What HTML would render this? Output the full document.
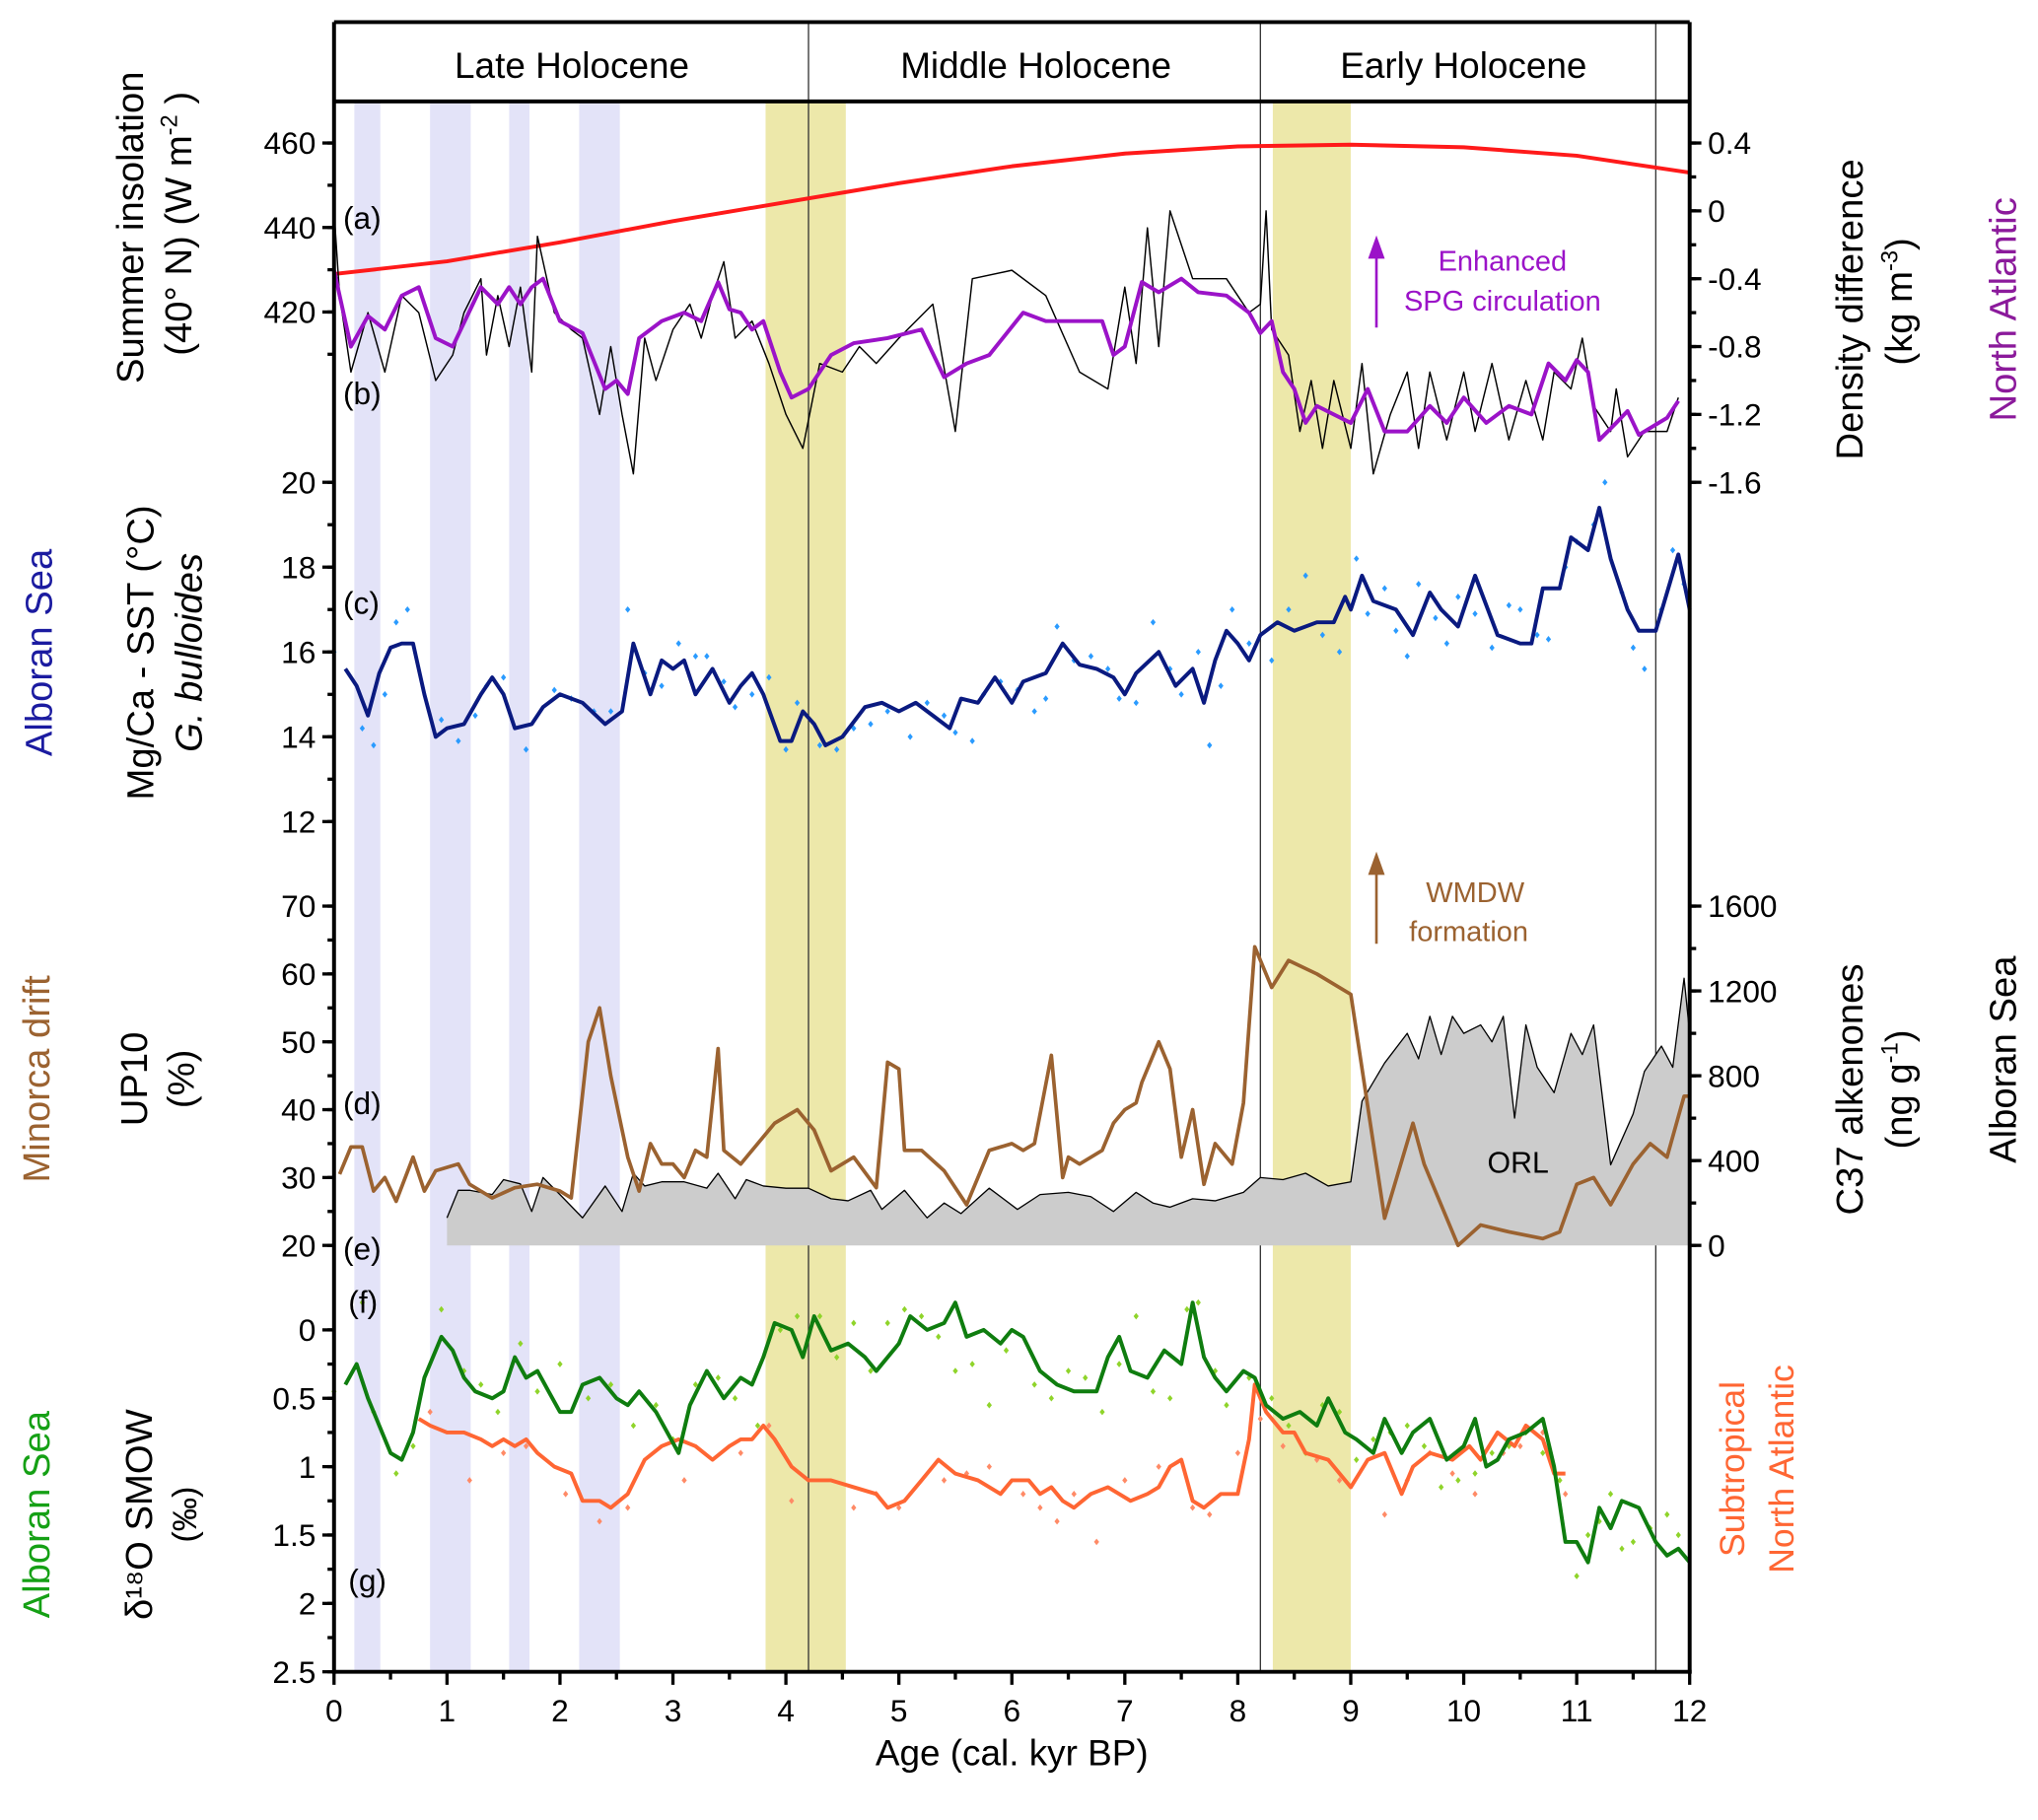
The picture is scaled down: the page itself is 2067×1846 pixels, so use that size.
<!DOCTYPE html>
<html><head><meta charset="utf-8"><style>
html,body{margin:0;padding:0;background:#fff;}
svg{display:block;font-family:"Liberation Sans",Arial,sans-serif;}
</style></head><body>
<svg id="chart" width="2067" height="1846" viewBox="0 0 1568 1400" preserveAspectRatio="none" xmlns="http://www.w3.org/2000/svg">
<g id="bg"></g>
<g id="marks"></g>
<g id="axes"></g>
</svg>
<script>
// ---- data ----
const blueBands=[[0.18,0.41],[0.85,1.21],[1.55,1.73],[2.17,2.53]];
const yellowBands=[[3.82,4.53],[8.31,9.0]];
const periodLines=[4.2,8.2,11.7];
const insolAge=[0,1,2,3,4,5,6,7,8,9,10,11,12];
const insolVal=[429,432,436.5,441.5,446,450.5,454.5,457.5,459.2,459.6,459,457,453];
const densAge=[0,0.15,0.3,0.45,0.6,0.75,0.9,1.05,1.3,1.45,1.55,1.65,1.75,1.85,2.0,2.2,2.4,2.5,2.6,2.7,2.9,3.1,3.25,3.4,3.5,3.6,3.7,3.8,3.95,4.05,4.2,4.4,4.6,4.9,5.2,5.4,5.6,5.8,6.1,6.3,6.5,6.8,6.9,7.0,7.15,7.3,7.5,7.65,7.9,8.1,8.2,8.3,8.4,8.5,8.6,8.7,8.85,9.0,9.15,9.3,9.5,9.7,9.85,10.0,10.2,10.4,10.6,10.75,10.9,11.0,11.1,11.2,11.35,11.45,11.55,11.8,11.9];
const densVal=[-0.35,-0.8,-0.62,-0.7,-0.5,-0.45,-0.75,-0.8,-0.45,-0.55,-0.45,-0.55,-0.45,-0.4,-0.65,-0.72,-1.05,-1.0,-1.08,-0.75,-0.65,-0.6,-0.65,-0.42,-0.58,-0.6,-0.7,-0.65,-0.95,-1.1,-1.05,-0.85,-0.78,-0.75,-0.7,-0.98,-0.9,-0.85,-0.6,-0.65,-0.65,-0.65,-0.85,-0.8,-0.42,-0.48,-0.4,-0.48,-0.5,-0.6,-0.72,-0.65,-0.95,-1.05,-1.25,-1.15,-1.2,-1.25,-1.05,-1.3,-1.3,-1.15,-1.25,-1.1,-1.25,-1.15,-1.2,-0.9,-1.0,-0.88,-0.95,-1.35,-1.25,-1.18,-1.32,-1.22,-1.12];
const rawAge=[0,0.05,0.15,0.3,0.45,0.6,0.75,0.9,1.05,1.15,1.3,1.35,1.45,1.55,1.65,1.75,1.8,1.95,2.1,2.2,2.35,2.45,2.55,2.65,2.75,2.85,3.0,3.15,3.25,3.35,3.45,3.55,3.7,3.85,4.0,4.15,4.3,4.5,4.65,4.8,5.0,5.3,5.5,5.65,6.0,6.3,6.6,6.85,7.0,7.1,7.2,7.3,7.4,7.6,7.9,8.1,8.2,8.25,8.3,8.45,8.55,8.65,8.75,8.85,9.0,9.1,9.2,9.35,9.5,9.6,9.7,9.85,10.0,10.1,10.25,10.4,10.55,10.7,10.8,10.95,11.05,11.15,11.3,11.35,11.45,11.6,11.8,11.9];
const rawVal=[0.0,-0.5,-0.95,-0.6,-0.95,-0.5,-0.6,-1.0,-0.85,-0.6,-0.4,-0.85,-0.5,-0.8,-0.45,-0.95,-0.15,-0.6,-0.7,-0.75,-1.2,-0.8,-1.2,-1.55,-0.75,-1.0,-0.7,-0.55,-0.75,-0.5,-0.3,-0.75,-0.65,-0.9,-1.2,-1.4,-0.9,-0.95,-0.8,-0.9,-0.75,-0.55,-1.3,-0.4,-0.35,-0.5,-0.95,-1.05,-0.45,-0.9,-0.1,-0.8,0.0,-0.4,-0.4,-0.6,-0.55,0.0,-0.7,-0.85,-1.3,-1.0,-1.4,-1.0,-1.4,-0.9,-1.55,-1.2,-0.95,-1.4,-0.95,-1.35,-0.95,-1.3,-0.9,-1.35,-1.0,-1.35,-0.95,-1.05,-0.75,-1.15,-1.3,-1.05,-1.45,-1.3,-1.3,-1.1];
const sstAge=[0.1,0.2,0.3,0.4,0.5,0.6,0.7,0.8,0.9,1.0,1.15,1.3,1.4,1.5,1.6,1.75,1.85,2.0,2.2,2.4,2.55,2.65,2.8,2.9,3.0,3.1,3.2,3.35,3.5,3.6,3.7,3.8,3.95,4.05,4.15,4.25,4.35,4.5,4.7,4.85,5.0,5.15,5.3,5.45,5.55,5.7,5.85,6.0,6.1,6.3,6.45,6.6,6.75,6.9,7.0,7.1,7.3,7.45,7.6,7.7,7.8,7.9,8.0,8.1,8.2,8.35,8.5,8.7,8.85,8.95,9.0,9.1,9.2,9.4,9.55,9.7,9.8,9.95,10.1,10.3,10.5,10.6,10.7,10.85,10.95,11.1,11.2,11.3,11.45,11.55,11.7,11.9,12.0];
const sstVal=[15.6,15.2,14.5,15.5,16.1,16.2,16.2,15.0,14.0,14.2,14.3,15.0,15.4,15.0,14.2,14.3,14.7,15.0,14.8,14.3,14.6,16.2,15.0,15.8,15.6,15.8,15.0,15.6,14.8,15.2,15.5,15.0,13.9,13.9,14.6,14.3,13.8,14.0,14.7,14.8,14.6,14.8,14.5,14.2,14.9,14.8,15.4,14.8,15.3,15.5,16.2,15.7,15.6,15.4,15.0,15.5,16.0,15.2,15.6,14.8,15.8,16.5,16.2,15.8,16.4,16.7,16.5,16.7,16.7,17.3,17.0,17.8,17.2,17.0,16.4,17.4,17.0,16.6,17.8,16.4,16.2,16.2,17.5,17.5,18.7,18.4,19.4,18.2,17.0,16.5,16.5,18.3,17.0];
const sstDotAge=[0.0,0.25,0.35,0.55,0.65,1.1,1.25,1.35,1.7,1.95,2.3,2.6,2.75,3.05,3.3,3.55,3.85,4.0,4.45,4.75,5.1,5.4,5.65,5.9,6.2,6.4,6.7,6.95,7.25,7.5,7.75,7.95,8.3,8.6,8.9,9.05,9.3,9.5,9.75,9.95,10.25,10.5,10.75,11.0,11.25,11.4,11.6,11.85,0.45,0.95,1.5,2.1,2.45,2.9,3.2,3.45,3.7,4.1,4.3,4.6,4.9,5.25,5.5,5.75,6.05,6.3,6.55,6.85,7.1,7.4,7.65,7.85,8.1,8.45,8.75,9.15,9.4,9.6,9.85,10.1,10.4,10.65,10.9,11.15,11.5,11.75,11.95];
const sstDotVal=[16.0,14.2,13.8,16.7,17.0,13.9,14.5,15.2,13.7,15.1,14.6,17.0,15.5,16.2,15.9,14.7,15.4,13.7,13.7,14.3,14.0,14.5,13.9,15.3,14.6,16.6,15.9,14.9,16.7,15.0,13.8,17.0,15.8,17.8,16.0,18.2,17.5,15.9,16.8,17.3,16.1,17.0,16.3,18.6,20.0,17.4,15.6,18.4,15.0,14.4,15.4,14.9,14.6,15.2,15.9,15.3,15.0,14.8,13.8,14.2,14.6,14.8,14.1,15.0,15.1,14.9,15.8,15.6,14.8,15.6,16.0,15.2,16.2,17.0,16.4,16.9,16.5,17.6,16.2,16.9,17.1,16.4,18.0,19.0,16.1,17.0,17.6];
const up10Age=[0.05,0.15,0.25,0.35,0.45,0.55,0.7,0.8,0.9,1.1,1.2,1.4,1.6,1.8,2.0,2.1,2.25,2.35,2.45,2.6,2.7,2.8,2.9,3.0,3.1,3.2,3.3,3.4,3.45,3.6,3.8,3.9,4.1,4.25,4.4,4.6,4.8,4.9,5.0,5.05,5.2,5.4,5.6,5.8,6.0,6.1,6.2,6.35,6.45,6.5,6.6,6.8,6.9,7.0,7.1,7.15,7.3,7.4,7.5,7.6,7.7,7.8,7.95,8.05,8.15,8.3,8.45,8.7,9.0,9.3,9.55,9.65,9.95,10.15,10.4,10.7,10.85,11.0,11.15,11.3,11.5,11.65,11.8,11.95,12.0];
const up10Val=[30.5,34.5,34.5,28,30,26.5,33,28,31,32,29,27,28.5,29,28,27,50,55,45,33,28,35,32,32,30,34,33,49,34,32,36,38,40,37,31,33,28.5,47,46,34,34,31,26,34,35,34,35,48,30,33,32,34,38,40,41,44,50,46,33,40,29,35,32,41,64,58,62,60,57,24,38,32,20,23,22,21,22,29,30,26,32,35,33,42,42];
const c37Age=[1.0,1.1,1.2,1.4,1.5,1.65,1.75,1.85,2.0,2.2,2.4,2.55,2.65,2.75,2.9,3.1,3.3,3.4,3.55,3.65,3.8,4.0,4.2,4.4,4.55,4.75,4.85,5.05,5.25,5.4,5.55,5.8,6.05,6.25,6.5,6.7,6.9,7.1,7.25,7.4,7.6,7.8,8.05,8.2,8.4,8.6,8.8,9.0,9.1,9.3,9.5,9.6,9.7,9.8,9.9,10.0,10.15,10.25,10.35,10.45,10.55,10.65,10.8,10.95,11.05,11.15,11.3,11.5,11.6,11.75,11.85,11.95,12.0];
const c37Val=[130,260,260,240,310,290,160,320,240,130,280,160,340,280,300,300,270,340,220,310,280,270,270,220,210,260,170,260,130,200,150,270,170,240,250,230,160,250,200,180,220,210,250,320,310,340,280,300,680,860,1000,880,1080,900,1080,1000,1040,960,1080,600,1040,840,720,1000,900,1040,380,620,820,940,840,1260,1000];
const greenAge=[0.1,0.2,0.3,0.4,0.5,0.6,0.7,0.8,0.95,1.05,1.15,1.25,1.4,1.5,1.6,1.7,1.8,1.9,2.0,2.1,2.2,2.35,2.5,2.6,2.7,2.85,2.95,3.05,3.15,3.3,3.45,3.6,3.7,3.8,3.9,4.05,4.15,4.25,4.4,4.55,4.7,4.8,5.0,5.1,5.25,5.4,5.5,5.6,5.75,5.9,6.0,6.1,6.25,6.4,6.55,6.75,6.85,6.95,7.05,7.2,7.35,7.5,7.6,7.7,7.8,7.9,8.05,8.15,8.25,8.4,8.55,8.7,8.8,8.95,9.05,9.2,9.3,9.45,9.55,9.7,9.85,10.0,10.1,10.2,10.3,10.4,10.55,10.7,10.8,10.9,11.0,11.1,11.2,11.3,11.4,11.55,11.7,11.8,11.9,12.0];
const greenVal=[0.4,0.25,0.5,0.7,0.9,0.95,0.75,0.35,0.05,0.15,0.35,0.45,0.5,0.45,0.2,0.35,0.3,0.45,0.6,0.6,0.4,0.35,0.5,0.55,0.45,0.6,0.75,0.9,0.55,0.3,0.5,0.35,0.4,0.2,-0.05,0.0,0.2,-0.1,0.15,0.1,0.2,0.3,0.1,-0.1,0.0,-0.05,-0.2,0.05,0.0,0.1,0.0,0.05,0.3,0.4,0.45,0.45,0.2,0.05,0.3,0.35,0.15,0.25,-0.2,0.2,0.35,0.45,0.3,0.35,0.55,0.65,0.6,0.7,0.5,0.75,0.8,0.9,0.65,0.9,0.75,0.65,0.95,0.85,0.65,1.0,0.95,0.8,0.75,0.65,1.0,1.55,1.55,1.7,1.3,1.45,1.25,1.3,1.55,1.65,1.6,1.7];
const orangeAge=[0.75,0.85,1.0,1.15,1.3,1.4,1.5,1.6,1.7,1.8,1.95,2.1,2.2,2.35,2.45,2.6,2.75,2.9,3.05,3.2,3.35,3.5,3.6,3.7,3.8,3.9,4.05,4.2,4.4,4.6,4.8,4.9,5.05,5.2,5.35,5.5,5.7,5.9,6.0,6.15,6.25,6.35,6.45,6.55,6.7,6.85,7.05,7.2,7.3,7.4,7.5,7.6,7.7,7.85,8.0,8.1,8.15,8.25,8.4,8.5,8.6,8.8,9.0,9.15,9.3,9.45,9.55,9.7,9.9,10.05,10.15,10.3,10.45,10.55,10.7,10.8,10.9];
const orangeVal=[0.65,0.7,0.75,0.75,0.8,0.85,0.8,0.85,0.8,0.9,1.0,1.05,1.25,1.25,1.3,1.2,0.95,0.85,0.8,0.85,0.95,0.85,0.8,0.8,0.7,0.8,1.0,1.1,1.1,1.15,1.2,1.3,1.25,1.1,0.95,1.05,1.1,1.2,1.1,1.1,1.2,1.15,1.25,1.3,1.2,1.15,1.25,1.2,1.15,1.0,0.95,1.25,1.3,1.2,1.2,0.8,0.4,0.6,0.75,0.75,0.9,0.95,1.15,0.95,0.9,1.2,1.0,0.9,0.95,0.85,0.95,0.75,0.85,0.7,0.8,1.05,1.05];
const greenDotAge=[0.0,0.25,0.55,0.95,1.3,1.65,2.0,2.45,2.85,3.0,3.4,3.75,3.95,4.3,4.6,4.9,5.2,5.5,5.8,6.2,6.5,6.8,7.1,7.4,7.65,7.9,8.3,8.6,8.9,9.2,9.5,9.8,10.1,10.4,10.7,11.0,11.1,11.3,11.5,11.8,0.35,0.7,1.15,1.45,1.8,2.25,2.65,3.2,3.55,4.1,4.45,4.75,5.05,5.35,5.65,5.95,6.35,6.65,6.95,7.25,7.55,7.8,8.1,8.45,8.75,9.05,9.35,9.65,9.95,10.25,10.55,10.85,11.2,11.4,11.65,11.9];
const greenDotVal=[0.45,-0.2,1.05,-0.15,0.4,0.1,0.25,0.4,0.55,0.8,0.35,0.7,0.0,-0.1,-0.05,-0.05,-0.1,0.3,0.55,0.4,0.3,0.6,-0.1,0.5,-0.2,0.55,0.5,0.9,0.6,0.8,0.7,1.15,1.05,0.85,0.9,1.8,1.5,1.2,1.55,1.35,0.6,0.85,0.3,0.6,0.45,0.5,0.7,0.4,0.5,-0.1,0.2,0.3,-0.15,0.05,0.25,0.15,0.5,0.35,0.25,0.45,-0.15,0.3,0.35,0.7,0.55,0.95,0.75,0.85,1.1,0.9,0.75,1.1,1.4,1.6,1.45,1.5];
const orangeDotAge=[0.85,1.2,1.7,2.05,2.35,3.1,3.6,4.05,4.6,5.0,5.4,5.8,6.1,6.4,6.75,7.3,7.6,8.0,8.4,8.9,9.3,9.7,10.1,10.5,10.9,1.5,2.6,3.85,4.8,5.6,6.25,6.55,7.0,7.75,8.2,8.7,9.5,9.9,10.35,10.7];
const orangeDotVal=[0.6,1.1,0.85,1.2,1.4,1.1,0.9,1.25,1.3,1.3,1.1,1.0,1.2,1.4,1.55,1.0,1.3,0.9,0.85,1.1,1.35,0.9,1.2,0.85,1.2,0.9,1.3,0.7,1.2,1.05,1.3,1.2,1.1,1.35,0.65,0.95,1.1,1.05,0.9,0.75];
const insolTicks=[420,440,460];
const densTicks=[-1.6,-1.2,-0.8,-0.4,0,0.4];
const sstTicks=[12,14,16,18,20];
const up10Ticks=[20,30,40,50,60,70];
const c37Ticks=[0,400,800,1200,1600];
const d18Ticks=[0,0.5,1,1.5,2,2.5];
const d18Labels=["0","0.5","1","1.5","2","2.5"];
const xTicks=[0,1,2,3,4,5,6,7,8,9,10,11,12];

// ---- scales ----
const X0=257,X1=1300,TOP=17,HB=78,BOT=1286;
const sx=a=>X0+(X1-X0)*a/12;
const lin=(d0,d1,r0,r1)=>v=>r0+(v-d0)*(r1-r0)/(d1-d0);
const yIns=lin(420,460,240,110);
const yDen=lin(-1.6,0.4,371,110);
const ySst=lin(12,20,632,371);
const yUp=lin(20,70,958,697);
const yC37=lin(0,1600,958,697);
const yD18=lin(0,2.5,1023,1286);

const NS="http://www.w3.org/2000/svg";
function mk(parent,tag,attrs){const e=document.createElementNS(NS,tag);for(const k in attrs)e.setAttribute(k,attrs[k]);parent.appendChild(e);return e;}
const bg=document.getElementById('bg'),marks=document.getElementById('marks'),axes=document.getElementById('axes');

blueBands.forEach(b=>{const r=mk(bg,'rect',{x:sx(b[0]),y:HB,width:sx(b[1])-sx(b[0]),height:BOT-HB,fill:'#e3e3f8'});

});
yellowBands.forEach(b=>{const r=mk(bg,'rect',{x:sx(b[0]),y:HB,width:sx(b[1])-sx(b[0]),height:BOT-HB,fill:'#ede8aa'});

});
periodLines.forEach(a=>{const l=mk(bg,'line',{x1:sx(a),x2:sx(a),y1:TOP,y2:BOT,stroke:'#333','stroke-width':1});

});

function path(ages,vals,ys){return ages.map((a,i)=>(i?'L':'M')+sx(a).toFixed(1)+','+ys(vals[i]).toFixed(1)).join('');}
function line(ages,vals,ys,color,w,name){const p=mk(marks,'path',{d:path(ages,vals,ys),fill:'none',stroke:color,'stroke-width':w,'stroke-linejoin':'round'});

return p;}
function dots(ages,vals,ys,color,name){const g=mk(marks,'g',{fill:color});


ages.forEach((a,i)=>{const x=sx(a),y=ys(vals[i]);mk(g,'path',{d:`M${x},${y-2.5}L${x+2},${y}L${x},${y+2.5}L${x-2},${y}Z`});});}

const c37d=path(c37Age,c37Val,yC37)+`L${sx(c37Age[c37Age.length-1])},${yC37(0)}L${sx(c37Age[0])},${yC37(0)}Z`;
const area=mk(marks,'path',{d:c37d,fill:'#cccccc',stroke:'none'});


line(c37Age,c37Val,yC37,'#000',1,'c37-alkenones-line');
line(insolAge,insolVal,yIns,'#ff1a1a',3,'summer-insolation-line');
line(rawAge,rawVal,yDen,'#000',1.1,'density-raw-line');
line(densAge,densVal,yDen,'#9b13c8',3,'density-difference-line');
dots(sstDotAge,sstDotVal,ySst,'#2a9bff','sst-dots');
line(sstAge,sstVal,ySst,'#0a1a80',3,'mgca-sst-line');
line(up10Age,up10Val,yUp,'#9b6230',2.8,'up10-line');
dots(greenDotAge,greenDotVal,yD18,'#8fd42a','alboran-d18o-dots');
dots(orangeDotAge,orangeDotVal,yD18,'#ff8a66','atlantic-d18o-dots');
line(orangeAge,orangeVal,yD18,'#ff6633',3,'subtropical-atlantic-d18o-line');
line(greenAge,greenVal,yD18,'#0f7d0f',3,'alboran-d18o-line');

function ln(x1,y1,x2,y2,w,name){const l=mk(axes,'line',{x1,y1,x2,y2,stroke:'#000','stroke-width':w});

}
ln(X0,TOP,X0,BOT+1.5,3,'left-axis-line');
ln(X1,TOP,X1,BOT+1.5,3,'right-axis-line');
ln(X0,TOP,X1,TOP,3,'top-border');
ln(X0,HB,X1,HB,3,'header-border');
ln(X0-1.5,BOT,X1+1.5,BOT,3,'x-axis-line');
function txt(x,y,s,size,anchor,name,extra){const t=mk(axes,'text',Object.assign({x,y,'font-size':size,'text-anchor':anchor,fill:'#000'},extra||{}));t.textContent=s;

return t;}
function ticksL(vals,ys,minorStep,lo,hi,labels,name){vals.forEach((v,i)=>{ln(X0-9,ys(v),X0,ys(v),2.5,name+'-tick');txt(X0-14,ys(v)+8.5,labels?labels[i]:String(v),24,'end',name+'-label');});
for(let v=lo;v<=hi+1e-9;v+=minorStep){ln(X0-5,ys(v),X0,ys(v),2.5,name+'-minor-tick');}}
function ticksR(vals,ys,minorStep,lo,hi,name){vals.forEach(v=>{ln(X1,ys(v),X1+9,ys(v),2.5,name+'-tick');txt(X1+14,ys(v)+8.5,String(v),24,'start',name+'-label');});
for(let v=lo;v<=hi+1e-9;v+=minorStep){ln(X1,ys(v),X1+5,ys(v),2.5,name+'-minor-tick');}}
ticksL(insolTicks,yIns,10,410,460,null,'insolation-axis');
ticksL(sstTicks,ySst,1,12,20,null,'sst-axis');
ticksL(up10Ticks,yUp,5,20,70,null,'up10-axis');
ticksL(d18Ticks,yD18,0.25,0,2.5,d18Labels,'d18o-axis');
ticksR(densTicks,yDen,0.2,-1.6,0.4,'density-axis');
ticksR(c37Ticks,yC37,200,0,1600,'c37-axis');
xTicks.forEach(v=>{ln(sx(v),BOT,sx(v),BOT+10,2.5,'x-tick');txt(sx(v),BOT+38,String(v),24,'middle','x-tick-label');});
for(let v=0.5;v<12;v+=1)ln(sx(v),BOT,sx(v),BOT+6,2.5,'x-minor-tick');
txt((X0+X1)/2,BOT+72,'Age (cal. kyr BP)',28,'middle','x-axis-title');

txt(440,60,'Late Holocene',28,'middle','late-holocene-label');
txt(797,60,'Middle Holocene',28,'middle','middle-holocene-label');
txt(1126,60,'Early Holocene',28,'middle','early-holocene-label');

[['(a)',264,176],['(b)',264,311],['(c)',264,472],['(d)',264,857],['(e)',264,969],['(f)',268,1010],['(g)',268,1224]].forEach(p=>txt(p[1],p[2],p[0],24,'start','panel-label'));
txt(1168,902,'ORL',23,'middle','orl-label');

const a1=mk(axes,'path',{d:'M1059,252L1059,188M1054,198L1059,184L1064,198Z',stroke:'#9b13c8',fill:'#9b13c8','stroke-width':2});


txt(1156,208,'Enhanced',22,'middle','spg-annotation-1',{fill:'#9b13c8'});
txt(1156,239,'SPG circulation',22,'middle','spg-annotation-2',{fill:'#9b13c8'});
const a2=mk(axes,'path',{d:'M1059,726L1059,662M1054,672L1059,658L1064,672Z',stroke:'#9b6230',fill:'#9b6230','stroke-width':2});


txt(1135,694,'WMDW',22,'middle','wmdw-annotation-1',{fill:'#9b6230'});
txt(1130,724,'formation',22,'middle','wmdw-annotation-2',{fill:'#9b6230'});

function vt(x,y,s,size,color,name){const t=txt(x,y,s,size,'middle',name,{fill:color,transform:`rotate(-90 ${x} ${y})`});return t;}
vt(110,175,'Summer insolation',29,'#000','insolation-title-1');
const t2=vt(147,172,'',29,'#000','insolation-title-2');
t2.innerHTML='(40°  N) (W  m<tspan font-size="18" dy="-11">-2</tspan><tspan dy="11"> )</tspan>';
vt(40,502,'Alboran Sea',29,'#1b1ba0','sst-region-title');
vt(118,502,'Mg/Ca - SST (°C)',29,'#000','sst-title-1');
const ib=vt(155,502,'G. bulloides',29,'#000','sst-title-2');ib.setAttribute('font-style','italic');
vt(38,830,'Minorca drift',29,'#9b6230','up10-region-title');
vt(113,830,'UP10',29,'#000','up10-title-1');
vt(149,830,'(%)',29,'#000','up10-title-2');
vt(38,1165,'Alboran Sea',29,'#15a015','d18o-region-title');
vt(117,1165,'δ¹⁸O SMOW',29,'#000','d18o-title-1');
vt(151,1165,'(‰)',26,'#000','d18o-title-2');
vt(1433,238,'Density difference',29,'#000','density-title-1');
const d2=vt(1471,232,'',29,'#000','density-title-2');
d2.innerHTML='(kg m<tspan font-size="18" dy="-11">-3</tspan><tspan dy="11">)</tspan>';
vt(1551,238,'North Atlantic',29,'#8b1a9b','density-region-title');
vt(1433,838,'C37  alkenones',29,'#000','c37-title-1');
const c2=vt(1471,838,'',29,'#000','c37-title-2');
c2.innerHTML='(ng g<tspan font-size="18" dy="-11">-1</tspan><tspan dy="11">)</tspan>';
vt(1551,815,'Alboran Sea',29,'#000','c37-region-title');
vt(1342,1130,'Subtropical',27,'#ff6633','atlantic-title-1');
vt(1380,1130,'North Atlantic',27,'#ff6633','atlantic-title-2');
</script>
</body></html>
